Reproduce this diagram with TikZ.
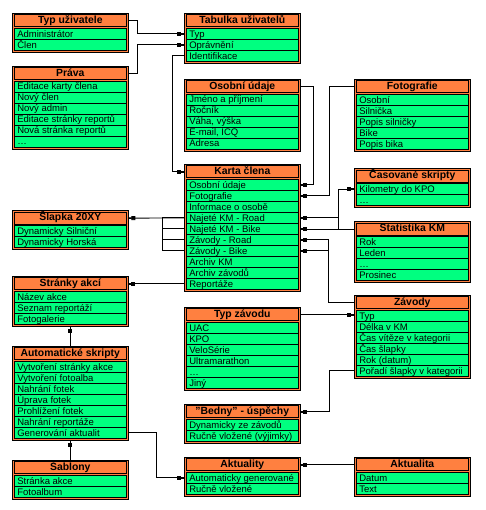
\documentclass[tikz,border=0pt]{standalone}
\usepackage{fontspec}
\setmainfont{Liberation Sans}
\usetikzlibrary{arrows.meta}
\definecolor{orange}{HTML}{FF8040}
\definecolor{green}{HTML}{00FF80}

% one table: name, left, top, title, rows
\newcommand{\entity}[5]{%
  \foreach \rowtext [count=\i] in {#5} {\xdef\nrows{\i}}
  \draw[frame] (#2,#3) rectangle ++(116,17+11*\nrows);
  \node[head] (#1) at (#2,#3) {#4};
  \foreach \rowtext [count=\i] in {#5}
    \node[row] (#1-\i) at (#2,#3+2+11*\i) {\makebox[106pt][l]{\rowtext}};
}

\begin{document}
\begin{tikzpicture}[x=1pt,y=-1pt,line width=.9pt,
 frame/.style={draw,fill=orange},
 head/.style={anchor=north west,draw,fill=orange,minimum width=112pt,minimum height=12pt,inner sep=0pt,text height=8pt,text depth=2.5pt,outer xsep=2pt,outer ysep=1.5pt,font=\bfseries\fontsize{10.4}{12}\selectfont},
 row/.style={anchor=north west,draw,fill=green,inner xsep=3pt,inner ysep=0pt,minimum height=11pt,text height=8.5pt,text depth=1.5pt,outer xsep=2pt,outer ysep=2pt,font=\fontsize{9.5}{11}\selectfont},
 link/.style={draw,-{Rectangle[length=4pt,width=4pt]Rectangle[length=3pt,width=1.5pt]}}]
 \useasboundingbox (0,0) rectangle (485,510);
 % left column
 \entity{typ}{12.3}{13.3}{Typ uživatele}{Administrátor,Člen}
 \entity{prava}{12.3}{66}{Práva}{Editace karty člena,Nový člen,Nový admin,Editace stránky reportů,Nová stránka reportů,\ldots}
 \entity{slapka}{12.3}{210.7}{Šlapka 20XY}{Dynamicky Silniční,Dynamicky Horská}
 \entity{akce}{12.3}{276.3}{Stránky akcí}{Název akce,Seznam reportáží,Fotogalerie}
 \entity{auto}{12.3}{346}{Automatické skripty}{Vytvoření stránky akce,Vytvoření fotoalba,Nahrání fotek,Úprava fotek,Prohlížení fotek,Nahrání reportáže,Generování aktualit}
 \entity{sablony}{12.3}{460}{Šablony}{Stránka akce,Fotoalbum}
 % middle column
 \entity{tab}{184.3}{13.3}{Tabulka uživatelů}{Typ,Oprávnění,Identifikace}
 \entity{osobni}{184.3}{79}{Osobní údaje}{Jméno a příjmení,Ročník,{Váha, výška},{E-mail, ICQ},Adresa}
 \entity{karta}{184.3}{164.3}{Karta člena}{Osobní údaje,Fotografie,Informace o osobě,Najeté KM - Road,Najeté KM - Bike,Závody - Road,Závody - Bike,Archiv KM,Archiv závodů,Reportáže}
 \entity{typzav}{184.3}{307.3}{Typ závodu}{UAC,KPO,VeloSérie,Ultramarathon,\ldots,Jiný}
 \entity{bedny}{184.3}{404.3}{"Bedny" - úspěchy}{Dynamicky ze závodů,Ručně vložené (výjimky)}
 \entity{aktuality}{184.3}{457.3}{Aktuality}{Automaticky generované,Ručně vložené}
 % right column
 \entity{foto}{354.3}{79.3}{Fotografie}{Osobní,Silnička,Popis silničky,Bike,Popis bika}
 \entity{cas}{354.3}{168.7}{Časované skripty}{Kilometry do KPO,\ldots}
 \entity{stat}{354.3}{221.7}{Statistika KM}{Rok,Leden,\ldots,Prosinec}
 \entity{zavody}{354.3}{295.3}{Závody}{Typ,Délka v KM,Čas vítěze v kategorii,Čas šlapky,Rok (datum),Pořadí šlapky v kategorii}
 \entity{aktualita}{354.3}{457.3}{Aktualita}{Datum,Text}
 % links
 \draw[link] (typ.east) -- ++(9,0) |- (tab-1.west);
 \draw[link] (prava.east) -- ++(9,0) |- (tab-2.west);
 \draw[link] (tab-3.west) -- ++(-12.3,0) |- (karta.west);
 \draw[link] (osobni.east) -- ++(13,0) |- (karta-1.east);
 \draw[link] (foto.west) -- ++(-25,0) |- (karta-2.east);
 \draw[link] (stat.west) -- ++(-16,0) coordinate (kmjoin) |- (karta-4.east);
 \draw[link] (kmjoin) -- (karta-5.east |- kmjoin);
 \draw[link] (kmjoin) |- (cas-1.west);
 \draw[link] (zavody.west) -- ++(-25.5,0) coordinate (zjoin) |- (karta-6.east);
 \draw[link] (zjoin) |- (karta-7.east);
 \draw[link] (karta-4.west) -- (slapka.east);
 \draw (karta-7.west) -- ++(-21.6,0) |- (karta-4.west);
 \draw (karta-5.west) -- ++(-21.6,0);
 \draw (karta-6.west) -- ++(-21.6,0);
 \draw[link] (karta-10.west) -- (akce.east);
 \draw[link] (auto.north) -- (akce-3.south);
 \draw[link] (sablony.north) -- (auto-7.south);
 \draw[link] (auto-7.east) -- ++(28.4,0) |- (aktuality-1.west);
 \draw[link] (aktualita.west) -- (aktuality.east);
 \draw[link] (typzav.east) -- (zavody-1.west |- typzav.east);
 \draw[link] (zavody-6.west) -- ++(-25,0) |- (bedny.east);
\end{tikzpicture}
\end{document}
